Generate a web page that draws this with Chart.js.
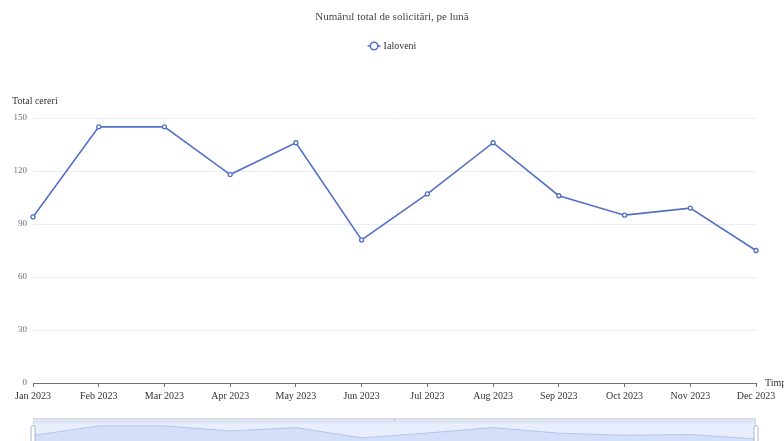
<!DOCTYPE html>
<html>
<head>
<meta charset="utf-8">
<script src="https://cdn.jsdelivr.net/npm/chart.js@4.4.1/dist/chart.umd.min.js"></script>
<style>
  html, body { margin: 0; padding: 0; background: #fff; overflow: hidden; }
  #wrap { position: relative; width: 784px; height: 441px; }
  #main { position: absolute; left: 0; top: 0; }
  #sliderBox { position: absolute; left: 29px; top: 418px; width: 731px; height: 35px; }
</style>
</head>
<body>
<div id="wrap">
  <canvas id="main" width="784" height="441"></canvas>
  <div id="sliderBox"><canvas id="slider" width="731" height="35"></canvas></div>
</div>
<script>
// date din grafic
const months = ['Jan 2023', 'Feb 2023', 'Mar 2023', 'Apr 2023', 'May 2023', 'Jun 2023',
                'Jul 2023', 'Aug 2023', 'Sep 2023', 'Oct 2023', 'Nov 2023', 'Dec 2023'];
const ialoveni = [94, 145, 145, 118, 136, 81, 107, 136, 106, 95, 99, 75];
const yTicks = [0, 30, 60, 90, 120, 150];

const chartTitle = 'Numărul total de solicitări, pe lună';
const yName = 'Total cereri';
const xName = 'Timp';

const serif = '"Liberation Serif", "Times New Roman", serif';
const blue = '#5470c6';

// titlu, legenda si numele axelor
const decor = {
  id: 'decor',
  afterDraw(chart) {
    const ctx = chart.ctx;
    const area = chart.chartArea;
    ctx.save();
    ctx.textBaseline = 'middle';

    ctx.font = '11px ' + serif;
    ctx.fillStyle = '#464646';
    ctx.textAlign = 'center';
    ctx.fillText(chartTitle, 392, 17);

    // legenda: linie + cerc gol
    const label = chart.data.datasets[0].label;
    ctx.font = '10px ' + serif;
    const tw = ctx.measureText(label).width;
    const iconW = 13;
    const startX = 392 - (iconW + 3 + tw) / 2;
    const ly = 46;
    ctx.strokeStyle = blue;
    ctx.lineWidth = 1.5;
    ctx.beginPath();
    ctx.moveTo(startX, ly);
    ctx.lineTo(startX + iconW, ly);
    ctx.stroke();
    ctx.beginPath();
    ctx.arc(startX + iconW / 2, ly, 3.8, 0, Math.PI * 2);
    ctx.fillStyle = '#fff';
    ctx.fill();
    ctx.stroke();
    ctx.fillStyle = '#333';
    ctx.textAlign = 'left';
    ctx.fillText(label, startX + iconW + 3, ly);

    // numele axelor
    ctx.font = '10px ' + serif;
    ctx.fillStyle = '#333';
    ctx.textAlign = 'left';
    ctx.fillText(yName, 12, area.top - 17);
    ctx.fillText(xName, area.right + 9, area.bottom);
    ctx.restore();
  }
};

new Chart(document.getElementById('main'), {
  type: 'line',
  data: {
    labels: months,
    datasets: [{
      label: 'Ialoveni',
      data: ialoveni,
      borderColor: blue,
      borderWidth: 1.6,
      tension: 0,
      pointRadius: 2,
      pointBackgroundColor: '#fff',
      pointBorderColor: blue,
      pointBorderWidth: 1.3
    }]
  },
  options: {
    responsive: false,
    animation: false,
    layout: { padding: { top: 118, right: 28, bottom: 35, left: 0 } },
    plugins: {
      legend: { display: false },
      title: { display: false },
      tooltip: { enabled: false }
    },
    scales: {
      x: {
        type: 'category',
        offset: false,
        grid: { drawOnChartArea: false, drawTicks: true, tickLength: 4, color: '#6E7079' },
        border: { color: '#6E7079' },
        ticks: {
          color: '#333',
          font: { family: serif, size: 10 },
          padding: 3,
          maxRotation: 0,
          autoSkip: false
        },
        afterFit(s) { s.height = 23; }
      },
      y: {
        min: yTicks[0],
        max: yTicks[yTicks.length - 1],
        afterBuildTicks(s) { s.ticks = yTicks.map(v => ({ value: v })); },
        grid: { color: '#E9EDF5', drawTicks: false },
        border: { display: false },
        ticks: {
          color: '#6E7079',
          font: { family: serif, size: 9 },
          padding: 6
        },
        afterFit(s) { s.width = 33; }
      }
    }
  },
  plugins: [decor]
});

// slider-ul de jos (dataZoom)
const sliderDecor = {
  id: 'sliderDecor',
  beforeDraw(chart) {
    const ctx = chart.ctx;
    const a = chart.chartArea;
    ctx.save();
    ctx.fillStyle = '#e8eefc';
    ctx.fillRect(a.left, 0, a.right - a.left, chart.height);
    ctx.fillStyle = '#dfe5f2';
    ctx.fillRect(a.left, 0, a.right - a.left, 5.5);
    ctx.strokeStyle = '#d2dbee';
    ctx.lineWidth = 1;
    ctx.strokeRect(a.left + 0.5, 0.5, a.right - a.left - 1, chart.height + 5);
    ctx.restore();
  },
  afterDraw(chart) {
    const ctx = chart.ctx;
    const a = chart.chartArea;
    ctx.save();
    ctx.fillStyle = '#c5cfe3';
    ctx.beginPath();
    ctx.arc((a.left + a.right) / 2, 2.5, 1.3, 0, Math.PI * 2);
    ctx.fill();
    [a.left, a.right].forEach(x => {
      ctx.fillStyle = '#fff';
      ctx.strokeStyle = '#aab6cf';
      ctx.lineWidth = 1;
      ctx.beginPath();
      ctx.roundRect(x - 2, 7.5, 4, 30, 2);
      ctx.fill();
      ctx.stroke();
    });
    ctx.restore();
  }
};

new Chart(document.getElementById('slider'), {
  type: 'line',
  data: {
    labels: months,
    datasets: [{
      data: ialoveni,
      fill: 'origin',
      backgroundColor: '#d4e0fa',
      borderColor: '#b3c5ee',
      borderWidth: 1,
      pointRadius: 0,
      tension: 0
    }]
  },
  options: {
    responsive: false,
    animation: false,
    layout: { padding: { top: 7, right: 4, bottom: 0, left: 4 } },
    plugins: { legend: { display: false }, tooltip: { enabled: false } },
    scales: {
      x: { display: false, offset: false },
      y: { display: false, min: 0, max: 150 }
    }
  },
  plugins: [sliderDecor]
});
</script>
</body>
</html>
